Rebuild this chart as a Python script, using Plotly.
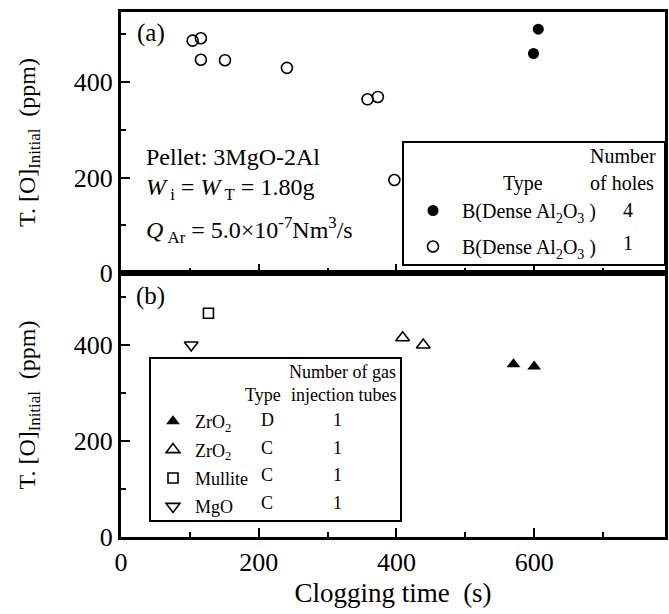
import plotly.graph_objects as go
from plotly.subplots import make_subplots

# ---------------- data ----------------
# panel (a)
a_holes4_x = [599, 606]
a_holes4_y = [460, 511]
a_holes1_x = [104, 116, 116, 151, 241, 358, 373, 397]
a_holes1_y = [487, 492, 447, 446, 430, 364, 369, 195]
a_legend_types = ["B(Dense Al<sub>2</sub>O<sub>3</sub> )", "B(Dense Al<sub>2</sub>O<sub>3</sub> )"]
a_legend_holes = ["4", "1"]

# panel (b)
b_zro2_d_x = [570, 600]
b_zro2_d_y = [360, 355]
b_zro2_c_x = [409, 439]
b_zro2_c_y = [415, 400]
b_mullite_x = [127]
b_mullite_y = [466]
b_mgo_x = [102]
b_mgo_y = [400]
b_legend_names = ["ZrO<sub>2</sub>", "ZrO<sub>2</sub>", "Mullite", "MgO"]
b_legend_types = ["D", "C", "C", "C"]
b_legend_tubes = ["1", "1", "1", "1"]

x_tick_vals = [0, 200, 400, 600]
y_tick_vals = [0, 200, 400]

# ---------------- layout helpers ----------------
W, H = 669, 614
PL, PR, PT, PB = 121, 665, 12, 537
SEP = 273
FONT = "Liberation Serif"


def fx(px):
    return (px - PL) / (PR - PL)


def fy(py):
    return (PB - py) / (PB - PT)


fig = make_subplots(rows=2, cols=1, shared_xaxes=True, vertical_spacing=0)

mk_line = dict(color="black", width=1.6)

# panel (a) traces
fig.add_trace(go.Scatter(x=a_holes4_x, y=a_holes4_y, mode="markers", name=a_legend_types[0],
                         marker=dict(symbol="circle", size=11, color="black", line=dict(color="black", width=0)),
                         legend="legend", legendgroup="a1"), row=1, col=1)
fig.add_trace(go.Scatter(x=a_holes1_x, y=a_holes1_y, mode="markers", name=a_legend_types[1],
                         marker=dict(symbol="circle-open", size=11, color="black", line=mk_line),
                         legend="legend", legendgroup="a2"), row=1, col=1)

# panel (b) traces
fig.add_trace(go.Scatter(x=b_zro2_d_x, y=b_zro2_d_y, mode="markers", name=b_legend_names[0],
                         marker=dict(symbol="triangle-up", size=12, color="black", line=dict(width=0)),
                         legend="legend2", legendgroup="b1"), row=2, col=1)
fig.add_trace(go.Scatter(x=b_zro2_c_x, y=b_zro2_c_y, mode="markers", name=b_legend_names[1],
                         marker=dict(symbol="triangle-up-open", size=12, color="black", line=mk_line),
                         legend="legend2", legendgroup="b2"), row=2, col=1)
fig.add_trace(go.Scatter(x=b_mullite_x, y=b_mullite_y, mode="markers", name=b_legend_names[2],
                         marker=dict(symbol="square-open", size=10, color="black", line=mk_line),
                         legend="legend2", legendgroup="b3"), row=2, col=1)
fig.add_trace(go.Scatter(x=b_mgo_x, y=b_mgo_y, mode="markers", name=b_legend_names[3],
                         marker=dict(symbol="triangle-down-open", size=12, color="black", line=mk_line),
                         legend="legend2", legendgroup="b4"), row=2, col=1)

split = fy(SEP)

axis_common = dict(
    showline=True, linewidth=3, linecolor="black", mirror=True,
    ticks="inside", ticklen=9, tickwidth=2, tickcolor="black",
    showgrid=False, zeroline=False, automargin=False,
    tickfont=dict(family=FONT, size=26, color="black"),
    minor=dict(ticks="inside", ticklen=5, tickwidth=2, tickcolor="black", dtick=100),
)

fig.update_xaxes(range=[0, 790], tickvals=x_tick_vals, **axis_common)
fig.update_xaxes(showticklabels=False, row=1, col=1)
fig.update_xaxes(title=dict(text="Clogging time\u00a0\u00a0(s)", font=dict(family=FONT, size=27, color="black"), standoff=7),
                 row=2, col=1)

ytitle = "T. [O]<sub>Initial</sub>\u00a0\u00a0(ppm)"
fig.update_yaxes(range=[0, 547], tickvals=y_tick_vals, **axis_common)
fig.update_yaxes(domain=[split, 1], range=[0, 547], row=1, col=1,
                 title=dict(text=ytitle, font=dict(family=FONT, size=24, color="black"), standoff=32))
fig.update_yaxes(domain=[0, split], range=[0, 550], row=2, col=1,
                 title=dict(text=ytitle, font=dict(family=FONT, size=24, color="black"), standoff=32))

# legend boxes
shapes = [
    dict(type="rect", xref="paper", yref="paper", x0=fx(403), x1=1, y0=fy(265), y1=fy(142),
         line=dict(color="black", width=2), fillcolor="white", layer="above"),
    dict(type="rect", xref="paper", yref="paper", x0=fx(150), x1=fx(401), y0=fy(521), y1=fy(358),
         line=dict(color="black", width=2), fillcolor="white", layer="above"),
]

ann = []


def add_text(text, px, py, size, xanchor="left"):
    ann.append(dict(text=text, x=fx(px), y=fy(py), xref="paper", yref="paper",
                    xanchor=xanchor, yanchor="middle", showarrow=False,
                    font=dict(family=FONT, size=size, color="black")))


add_text("(a)", 135, 33, 25)
add_text("(b)", 134, 296, 25)
add_text("Pellet: 3MgO-2Al", 144, 157, 24)
add_text("<i>W</i><sub>\u00a0i</sub> = <i>W</i><sub>\u00a0T</sub> = 1.80g", 144, 189, 24)
add_text("<i>Q</i><sub>\u00a0Ar</sub> = 5.0×10<sup>-7</sup>Nm<sup>3</sup>/s", 144, 230, 24)

# legend (a) headers and column
add_text("Number", 658, 156, 20, "right")
add_text("Type", 523, 183, 20, "center")
add_text("of holes", 656, 183, 20, "right")
for i, v in enumerate(a_legend_holes):
    add_text(v, 628, 210 + 33 * i, 20, "center")

# legend (b) headers and columns
add_text("Number of gas", 398, 372, 18, "right")
add_text("Type", 263, 395, 18, "center")
add_text("injection tubes", 398, 395, 18, "right")
for i, (t, n) in enumerate(zip(b_legend_types, b_legend_tubes)):
    add_text(t, 267, 420 + 27.7 * i, 18, "center")
    add_text(n, 337, 420 + 27.7 * i, 18, "center")

fig.update_layout(
    width=W, height=H,
    margin=dict(l=PL, r=W - PR, t=PT, b=H - PB),
    paper_bgcolor="white", plot_bgcolor="white",
    font=dict(family=FONT, color="black"),
    shapes=shapes, annotations=ann,
    showlegend=True,
    legend=dict(x=fx(404), y=fy(191), xanchor="left", yanchor="top",
                bgcolor="rgba(0,0,0,0)", borderwidth=0, itemwidth=48,
                traceorder="grouped", tracegroupgap=7,
                font=dict(family=FONT, size=20, color="black")),
    legend2=dict(x=fx(151), y=fy(403), xanchor="left", yanchor="top",
                 bgcolor="rgba(0,0,0,0)", borderwidth=0, itemwidth=34,
                 traceorder="grouped", tracegroupgap=2,
                 font=dict(family=FONT, size=18, color="black")),
)

fig.write_html("out.html", config={"displayModeBar": False},
               post_script="document.body.style.margin='0px';")
